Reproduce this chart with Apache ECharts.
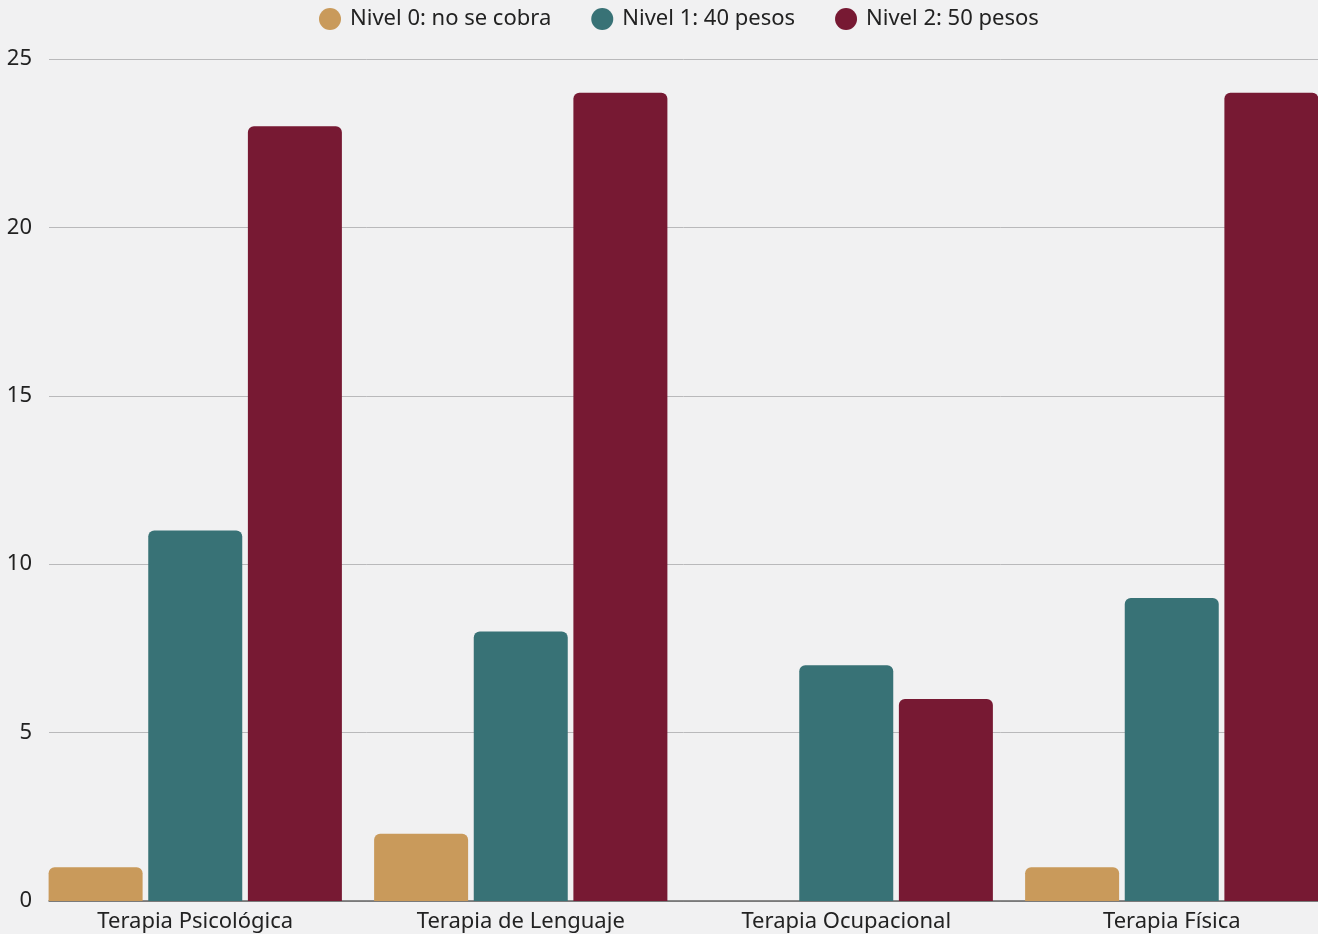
<!DOCTYPE html>
<html>
<head>
<meta charset="utf-8">
<script src="https://cdn.jsdelivr.net/npm/echarts@6/dist/echarts.min.js"></script>
<style>
html,body{margin:0;padding:0;background:#f1f1f2;overflow:hidden;}
#chart{width:1336px;height:934px;}
</style>
</head>
<body>
<div id="chart"></div>
<script>
const categories = ['Terapia Psicológica', 'Terapia de Lenguaje', 'Terapia Ocupacional', 'Terapia Física'];
const seriesNames = ['Nivel 0: no se cobra', 'Nivel 1: 40 pesos', 'Nivel 2: 50 pesos'];
const nivel0 = [1, 2, 0, 1];
const nivel1 = [11, 8, 7, 9];
const nivel2 = [23, 24, 6, 24];
const colors = ['#C99A5B', '#387276', '#771933'];

const chart = echarts.init(document.getElementById('chart'));
const font = 'Noto Sans';
const mk = (name, data, color) => ({
  name, type: 'bar', data, xAxisIndex: 0, yAxisIndex: 0,
  barWidth: 94, barGap: '6%', barCategoryGap: '10%',
  itemStyle: {color, borderRadius: [6, 6, 0, 0]}, z: 3
});
chart.setOption({
  backgroundColor: '#f1f1f2',
  animation: false,
  color: colors,
  legend: {
    top: 3, left: 314,
    icon: 'circle', itemWidth: 22, itemHeight: 22, itemGap: 40,
    textStyle: {fontFamily: font, fontSize: 22, color: '#222', padding: [0, 0, 0, 4]},
    data: seriesNames
  },
  grid: [
    {left: 32.5, right: 1.5, top: 59, bottom: 33},
    {left: 49, right: 18, top: 59, bottom: 33}
  ],
  xAxis: [
    {type: 'category', gridIndex: 0, data: categories,
     axisLine: {show: false}, axisTick: {show: false},
     axisLabel: {fontFamily: font, fontSize: 22, color: '#222', margin: 10}},
    {type: 'value', gridIndex: 1, min: 0, max: 1,
     axisLine: {show: true, lineStyle: {color: '#666', width: 1.5}},
     axisTick: {show: false}, axisLabel: {show: false}, splitLine: {show: false}}
  ],
  yAxis: [
    {type: 'value', gridIndex: 0, min: 0, max: 25, interval: 5, show: false, splitLine: {show: false}},
    {type: 'value', gridIndex: 1, min: 0, max: 25, interval: 5,
     axisLine: {show: false}, axisTick: {show: false},
     axisLabel: {fontFamily: font, fontSize: 22, color: '#222', margin: 17},
     splitLine: {lineStyle: {color: '#b9b9bb', width: 1}}}
  ],
  series: [
    mk(seriesNames[0], nivel0, colors[0]),
    mk(seriesNames[1], nivel1, colors[1]),
    mk(seriesNames[2], nivel2, colors[2])
  ]
});
</script>
</body>
</html>
